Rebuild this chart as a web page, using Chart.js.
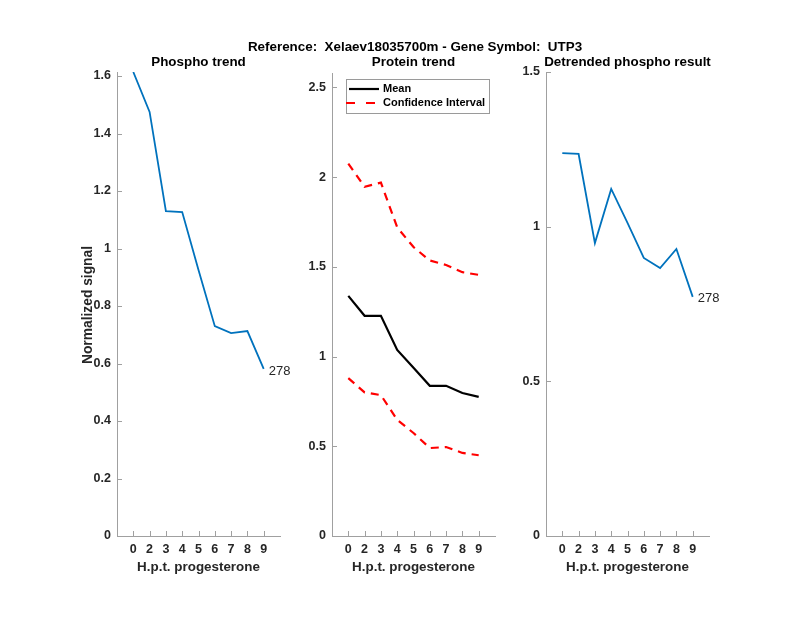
<!DOCTYPE html>
<html>
<head>
<meta charset="utf-8">
<script src="https://cdn.jsdelivr.net/npm/chart.js@4.4.1/dist/chart.umd.min.js"></script>
<style>
  html, body { margin:0; padding:0; background:#fff; }
  #wrap { position:relative; width:800px; height:618px; }
  canvas { position:absolute; left:0; top:0; }
</style>
</head>
<body>
<div id="wrap">
  <canvas id="c1" width="800" height="618"></canvas>
  <canvas id="c2" width="800" height="618"></canvas>
  <canvas id="c3" width="800" height="618"></canvas>
</div>
<script>
// ---- data ----
const hours = ['0','2','3','4','5','6','7','8','9'];
const phospho = [1.614, 1.475, 1.130, 1.127, 0.925, 0.730, 0.706, 0.713, 0.581];
const proteinMean = [1.338, 1.227, 1.227, 1.037, 0.937, 0.837, 0.837, 0.797, 0.775];
const proteinUpper = [2.075, 1.946, 1.969, 1.720, 1.610, 1.535, 1.510, 1.470, 1.455];
const proteinLower = [0.880, 0.800, 0.785, 0.647, 0.574, 0.490, 0.496, 0.463, 0.450];
const detrended = [1.238, 1.235, 0.947, 1.122, 1.012, 0.899, 0.866, 0.928, 0.773];
const siteLabel = '278';
const mainTitle = 'Reference:  Xelaev18035700m - Gene Symbol:  UTP3';
const subTitles = ['Phospho trend', 'Protein trend', 'Detrended phospho result'];
const xLabel = 'H.p.t. progesterone';
const yLabel = 'Normalized signal';

const FONT = "'Liberation Sans', Arial, Helvetica, sans-serif";
const AXIS = '#a0a0a0';
const TXT = '#262626';
const BLUE = '#0072BD';

const pts = arr => arr.map((v, i) => ({x: i + 1, y: v}));
const fmt = v => String(Math.round(v * 100) / 100);

const textPlugin = {
  id: 'texts',
  afterDraw(chart, args, o) {
    const ctx = chart.ctx, a = chart.chartArea;
    ctx.save();
    // inward ticks
    ctx.strokeStyle = AXIS; ctx.lineWidth = 1;
    const xs = chart.scales.x, ys = chart.scales.y;
    xs.ticks.forEach(t => {
      const px = Math.round(xs.getPixelForValue(t.value)) + 0.5;
      ctx.beginPath(); ctx.moveTo(px, a.bottom); ctx.lineTo(px, a.bottom - 5); ctx.stroke();
    });
    ys.ticks.forEach(t => {
      const py = Math.round(ys.getPixelForValue(t.value)) + 0.5;
      ctx.beginPath(); ctx.moveTo(a.left, py); ctx.lineTo(a.left + 5, py); ctx.stroke();
    });
    // subplot title
    ctx.fillStyle = '#000';
    ctx.font = 'bold 13.4px ' + FONT;
    ctx.textAlign = 'center'; ctx.textBaseline = 'middle';
    ctx.fillText(o.title, (a.left + a.right) / 2, 62);
    // x label
    ctx.fillStyle = TXT;
    ctx.font = 'bold 13.4px ' + FONT;
    ctx.fillText(xLabel, (a.left + a.right) / 2, 567);
    // y label
    if (o.ylabel) {
      ctx.save();
      ctx.translate(88, 305);
      ctx.rotate(-Math.PI / 2);
      ctx.font = 'bold 13.8px ' + FONT;
      ctx.fillText(o.ylabel, 0, 0);
      ctx.restore();
    }
    // main title
    if (o.main) {
      ctx.fillStyle = '#000';
      ctx.font = 'bold 13.4px ' + FONT;
      ctx.fillText(o.main, 415, 47);
    }
    // end label
    if (o.endLabel) {
      const meta = chart.getDatasetMeta(0);
      const p = meta.data[meta.data.length - 1];
      ctx.fillStyle = TXT;
      ctx.font = '13px ' + FONT;
      ctx.textAlign = 'left';
      ctx.fillText(o.endLabel, p.x + 5, p.y + 2);
    }
    // legend
    if (o.legend) {
      const L = 346, T = 79, R = 489, B = 113;
      ctx.fillStyle = '#fff'; ctx.fillRect(L, T, R - L, B - T);
      ctx.strokeStyle = '#9a9a9a'; ctx.lineWidth = 1;
      ctx.strokeRect(L + 0.5, T + 0.5, R - L, B - T);
      ctx.lineWidth = 2.2;
      ctx.strokeStyle = '#000';
      ctx.beginPath(); ctx.moveTo(349, 89); ctx.lineTo(379, 89); ctx.stroke();
      ctx.strokeStyle = '#ff0000'; ctx.setLineDash([9, 11]);
      ctx.beginPath(); ctx.moveTo(346, 103); ctx.lineTo(375, 103); ctx.stroke();
      ctx.setLineDash([]);
      ctx.fillStyle = '#000'; ctx.font = 'bold 11px ' + FONT;
      ctx.textAlign = 'left';
      ctx.fillText('Mean', 383, 89);
      ctx.fillText('Confidence Interval', 383, 103);
    }
    ctx.restore();
  }
};

function makeChart(id, area, ymax, ystep, datasets, opts) {
  const YW = 40, XH = 40;
  return new Chart(document.getElementById(id), {
    type: 'line',
    data: { datasets },
    plugins: [textPlugin],
    options: {
      responsive: false,
      animation: false,
      events: [],
      layout: { padding: { left: area.left - YW, top: area.top, right: 800 - area.right, bottom: 618 - area.bottom - XH } },
      plugins: { legend: { display: false }, tooltip: { enabled: false }, texts: opts },
      elements: { point: { radius: 0 }, line: { tension: 0 } },
      scales: {
        x: {
          type: 'linear', min: 0, max: 10,
          afterBuildTicks: s => { s.ticks = hours.map((h, i) => ({ value: i + 1 })); },
          afterFit: s => { s.height = XH; },
          grid: { display: true, color: 'rgba(0,0,0,0)', drawTicks: false },
          border: { display: true, color: AXIS, width: 1 },
          ticks: { padding: 6, maxRotation: 0, autoSkip: false, color: TXT,
                   font: { family: FONT, size: 12.5, weight: 'bold' },
                   callback: v => hours[v - 1] }
        },
        y: {
          type: 'linear', min: 0, max: ymax,
          afterFit: s => { s.width = YW; },
          grid: { display: true, color: 'rgba(0,0,0,0)', drawTicks: false },
          border: { display: true, color: AXIS, width: 1 },
          ticks: { stepSize: ystep, includeBounds: false, padding: 6, color: TXT,
                   font: { family: FONT, size: 12.5, weight: 'bold' },
                   callback: v => fmt(v) }
        }
      }
    }
  });
}

makeChart('c1', { left: 117, right: 280, top: 72, bottom: 536 }, 1.614, 0.2,
  [{ data: pts(phospho), borderColor: BLUE, borderWidth: 1.8 }],
  { title: subTitles[0], ylabel: yLabel, endLabel: siteLabel, main: mainTitle });

makeChart('c2', { left: 332, right: 495, top: 73, bottom: 536 }, 2.58, 0.5,
  [{ data: pts(proteinMean), borderColor: '#000', borderWidth: 2.2 },
   { data: pts(proteinUpper), borderColor: '#ff0000', borderWidth: 2.2, borderDash: [8, 6] },
   { data: pts(proteinLower), borderColor: '#ff0000', borderWidth: 2.2, borderDash: [8, 6] }],
  { title: subTitles[1], legend: true });

makeChart('c3', { left: 546, right: 709, top: 72, bottom: 536 }, 1.5, 0.5,
  [{ data: pts(detrended), borderColor: BLUE, borderWidth: 1.8 }],
  { title: subTitles[2], endLabel: siteLabel });
</script>
</body>
</html>
